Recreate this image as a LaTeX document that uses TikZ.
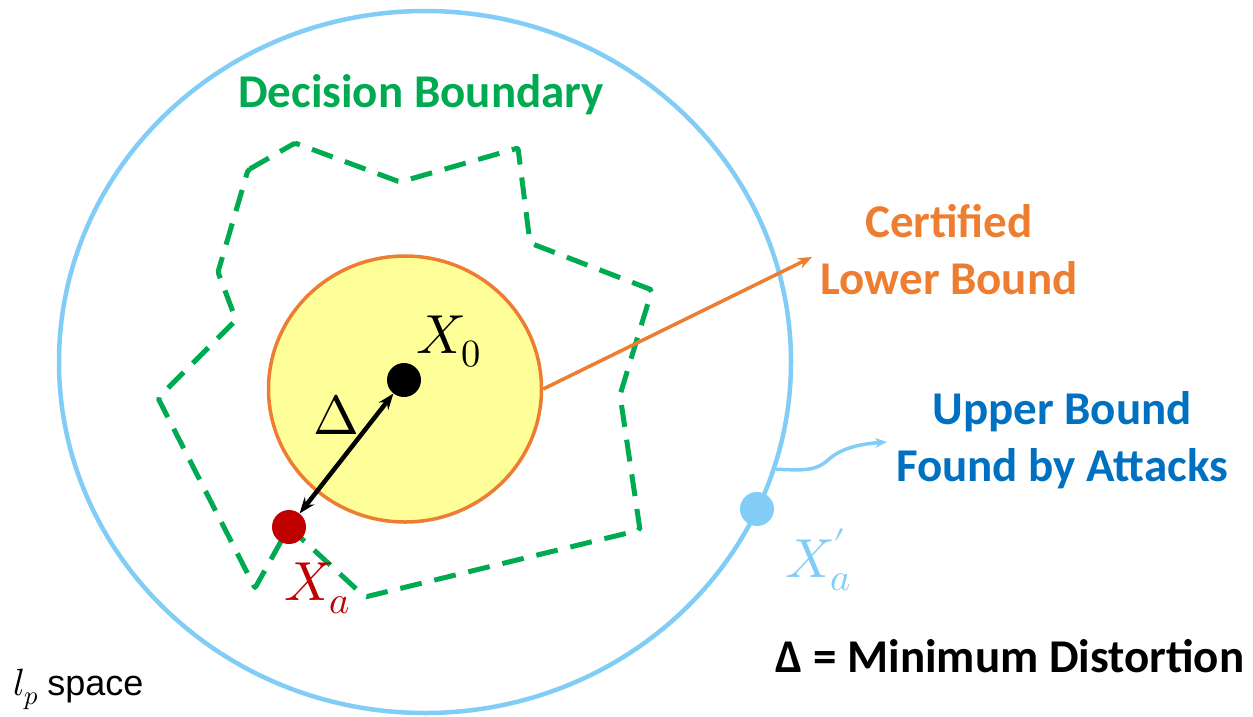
\documentclass[tikz,border=0pt]{standalone}
\usepackage{unicode-math}
\setmainfont{Carlito}
\setmathfont{Latin Modern Math}
\newfontfamily\arialf{Liberation Sans}
\usetikzlibrary{arrows.meta,shapes.geometric}
\definecolor{ublue}{RGB}{130,205,245}
\definecolor{tblue}{RGB}{0,112,192}
\definecolor{corange}{RGB}{237,125,49}
\definecolor{cyellow}{RGB}{255,255,153}
\definecolor{cgreen}{RGB}{0,170,80}
\definecolor{cred}{RGB}{192,0,0}
\begin{document}
\begin{tikzpicture}[x=1pt,y=-1pt,
  dot/.style={circle, draw=none, inner sep=0pt, minimum size=34pt},
  bnd/.style={draw=cgreen, line width=5pt, dash pattern=on 22pt off 13pt, rounded corners=2pt},
  lbl/.style={font=\fontsize{47}{57}\selectfont\bfseries, align=center, inner sep=0pt},
  mlbl/.style={font=\fontsize{55}{60}\selectfont, inner sep=0pt, anchor=base west}]
\useasboundingbox (0,0) rectangle (1253,716);
% l_p space
\node[ellipse, draw=ublue, line width=4.5pt, minimum width=732pt, minimum height=702pt, inner sep=0pt] (space) at (425,362) {};
% certified region
\node[ellipse, draw=corange, fill=cyellow, line width=3.5pt, minimum width=273pt, minimum height=266pt, inner sep=0pt] (cert) at (405,389) {};
% decision boundary
\draw[bnd] (248,170) -- (295,143) -- (400,182) -- (518,148) -- (530,243) -- (652,290) -- (620,395) -- (640,530) -- (365,597) -- (289,527) -- (255,588) -- (158,398) -- (236,320) -- (218,272) -- cycle;
% points
\node[dot, fill=black] (x0) at (404,380) {};
\node[dot, fill=cred] (xa) at (289,527) {};
\node[dot, fill=ublue] (xap) at (757,509) {};
% distance arrow
\draw[{Stealth[length=16pt,width=12pt]}-{Stealth[length=16pt,width=12pt]}, line width=4.5pt] (xa) -- (x0);
% math labels
\node[mlbl] (lx0) at (416,353) {$X_0$};
\node[mlbl, text=cred] (lxa) at (284,600) {$X_a$};
\node[mlbl, text=ublue] (lxap) at (785,577) {$X_a^{\prime}$};
\node[mlbl] (ldelta) at (313,434) {$\Delta$};
% text labels
\node[lbl, text=cgreen, anchor=base] (tdb) at (421,107) {Decision Boundary};
\node[lbl, text=corange] (tlb) at (949,250) {Certified\\Lower Bound};
\node[lbl, text=tblue] (tub) at (1062,440) {Upper Bound\\Found by Attacks};
\node[lbl, anchor=base] (tdef) at (1010,672) {Δ = Minimum Distortion};
\node[inner sep=0pt, anchor=base west, font=\fontsize{38}{42}\selectfont] (tsp) at (13,695) {$l_p$ {\arialf\fontsize{36}{40}\selectfont space}};
% connectors
\coordinate (lbtip) at (812,257);
\coordinate (ubtip) at (887,442);
\draw[-{Stealth[length=14pt,width=11pt]}, draw=corange, line width=3.5pt] (cert.east) -- (lbtip);
\draw[-{Stealth[length=12pt,width=10pt]}, draw=ublue, line width=3.5pt] (space.-17.7) .. controls (800,470) and (815,472) .. (828,460) .. controls (841,448) and (860,444) .. (ubtip);
\end{tikzpicture}
\end{document}
